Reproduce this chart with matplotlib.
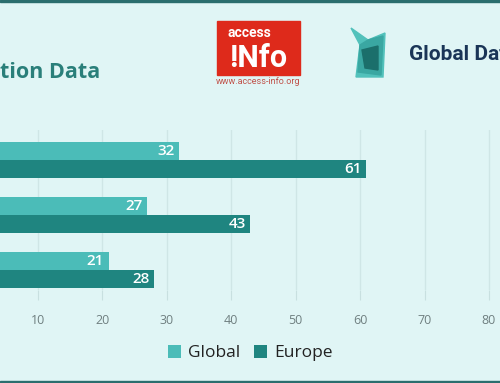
import numpy as np
import matplotlib.pyplot as plt
from matplotlib.patches import Rectangle, Polygon

# Data (category labels are cropped out of the picture)
global_vals = [21, 27, 32]
europe_vals = [28, 43, 61]
legend_labels = ['Global', 'Europe']
ticks = [10, 20, 30, 40, 50, 60, 70, 80]

bg = '#e0f5f5'
c_global = '#4bbcb8'
c_europe = '#1f8580'

plt.rcParams['font.family'] = ['Open Sans', 'DejaVu Sans']

fig = plt.figure(figsize=(5, 3.83), dpi=100)
fig.patch.set_facecolor(bg)

H = 383.0
ax = fig.add_axes([0, (H - 290) / H, 1, 160 / H])
ax.set_facecolor(bg)

y = np.arange(len(global_vals))
bh = 18.3 / 55
b1 = ax.barh(y + bh / 2, global_vals, height=bh, color=c_global, label=legend_labels[0], zorder=3)
b2 = ax.barh(y - bh / 2, europe_vals, height=bh, color=c_europe, label=legend_labels[1], zorder=3)

for bars in (b1, b2):
    for r in bars:
        w = r.get_width()
        ax.text(w - 0.7, r.get_y() + r.get_height() / 2, f'{w:g}', ha='right', va='center',
                color='white', fontsize=11, fontweight='semibold', zorder=4)

ax.set_xlim(4.16, 81.71)
ax.set_ylim(-20 / 55, 2 + 30 / 55)
ax.set_xticks(ticks)
ax.set_xticklabels([str(t) for t in ticks])
ax.set_yticks([])
ax.tick_params(axis='x', length=7, color='#c8e0e0', labelcolor='#6f7f80', labelsize=9, pad=10)
ax.grid(axis='x', color='#cfe6e6', linewidth=1, zorder=0)
for s in ax.spines.values():
    s.set_visible(False)

fig.legend(handles=[b1, b2], labels=legend_labels, loc='center', bbox_to_anchor=(0.5, 1 - 353 / H),
           ncol=2, frameon=False, fontsize=12.5, handlelength=0.75, handleheight=0.75,
           handletextpad=0.4, columnspacing=0.8, labelcolor='#222222')

# title (cropped on the left)
fig.text(0, 1 - 72 / H, 'tion Data', ha='left', va='center', fontsize=15.5,
         fontweight='bold', color='#2a7f7a')

# access info logo
fig.patches.append(Rectangle((216.7 / 500, 1 - 75 / H), 83.3 / 500, 54 / H,
                             transform=fig.transFigure, color='#de2a1b'))
fig.text(249 / 500, 1 - 33 / H, 'access', ha='center', va='center', fontsize=10,
         fontweight='bold', color='white', family=['Roboto', 'DejaVu Sans'])
fig.text(258 / 500, 1 - 58 / H, '!Nfo', ha='center', va='center', fontsize=22,
         fontweight='bold', color='white', family=['Roboto', 'DejaVu Sans'])
fig.text(258 / 500, 1 - 82 / H, 'www.access-info.org', ha='center', va='center', fontsize=6.5,
         color='#c0524a', family=['Roboto', 'DejaVu Sans'])

# global data logo
def px(pts):
    return [(a / 500, 1 - b / H) for a, b in pts]

fig.patches.append(Polygon(px([(351, 28), (368, 40), (385, 33), (383, 77), (356, 77), (360, 45)]),
                           closed=True, transform=fig.transFigure, color='#52c1bb'))
fig.patches.append(Polygon(px([(360, 45), (368, 40), (383, 36), (381, 75), (358, 72)]),
                           closed=True, transform=fig.transFigure, color='#3aa7a2'))
fig.patches.append(Polygon(px([(362, 50), (378, 46), (378, 70), (365, 68)]),
                           closed=True, transform=fig.transFigure, color='#1b6f6b'))
fig.text(409 / 500, 1 - 54 / H, 'Global Data', ha='left', va='center', fontsize=15,
         fontweight='bold', color='#1a3557', family=['Roboto', 'DejaVu Sans'])

# borders
fig.patches.append(Rectangle((0, 1 - 2 / H), 1, 2 / H, transform=fig.transFigure, color='#2b6e6e'))
fig.patches.append(Rectangle((0, 0), 1, 2.5 / H, transform=fig.transFigure, color='#2b6e6e'))

fig.savefig('out.png', dpi=100, facecolor=bg)
